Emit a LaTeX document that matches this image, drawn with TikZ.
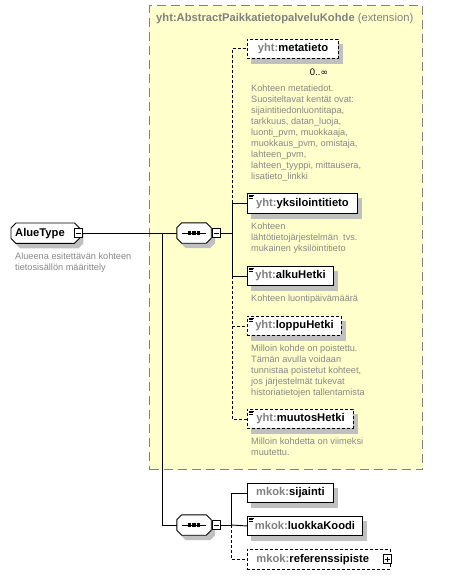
\documentclass[tikz,border=0pt]{standalone}
\usepackage{fontspec}
\setmainfont{Liberation Sans}
\newfontfamily\symfont{DejaVu Sans}
\usetikzlibrary{calc}
\definecolor{yellowfill}{RGB}{255,255,204}
\definecolor{extborder}{RGB}{128,128,128}
\definecolor{pfx}{RGB}{128,128,128}
\definecolor{desc}{RGB}{135,135,135}
\definecolor{shadowgray}{RGB}{192,192,192}
\pgfdeclarelayer{back}\pgfdeclarelayer{shade}\pgfdeclarelayer{body}
\pgfsetlayers{back,shade,body,main}
\newcommand\namefont{\fontsize{11.2}{13}\selectfont\bfseries}
\newcommand\descfont{\fontsize{9.2}{11}\selectfont}
\newcommand\octshape[4]{%
  \path[#4] ($(#1.north west)+(5+#2,#3)$) -- ($(#1.north east)+(-5+#2,#3)$) --
  ($(#1.north east)+(#2,5+#3)$) -- ($(#1.south east)+(#2,-5+#3)$) --
  ($(#1.south east)+(-5+#2,#3)$) -- ($(#1.south west)+(5+#2,#3)$) --
  ($(#1.south west)+(#2,-5+#3)$) -- ($(#1.north west)+(#2,5+#3)$) -- cycle;}
\tikzset{
  elem/.style={draw, fill=white, anchor=north west, inner sep=0pt, minimum height=19pt, font=\namefont, line width=0.9pt},
  opt/.style={dash pattern=on 3pt off 2pt},
  conn/.style={line width=0.9pt},
  descr/.style={anchor=north west, inner sep=0pt, align=left, font=\descfont, text=desc},
  pmbox/.style={draw, fill=white, minimum width=8pt, minimum height=9pt, inner sep=0pt, line width=0.8pt},
  octnode/.style={draw=none, inner sep=0pt, minimum height=20pt}
}
\newcommand\yh{{\color{pfx}yht:}}
\newcommand\mk{{\color{pfx}mkok:}}
\begin{document}
\begin{tikzpicture}[x=1pt,y=-1pt]
\useasboundingbox (0,0) rectangle (465,578);
% extension container
\begin{pgfonlayer}{back}
\node[draw=extborder, fill=yellowfill, dash pattern=on 9pt off 5pt, line width=1.2pt,
  anchor=north west, minimum width=273pt, minimum height=464pt, inner sep=0pt] (ext) at (149,5) {};
\end{pgfonlayer}
\node[anchor=west, inner sep=0pt, text=extborder, font=\fontsize{11.2}{13}\selectfont] (exttitle) at (156,19)
  {\textbf{yht:AbstractPaikkatietopalveluKohde} (extension)};

% root
\node[octnode, anchor=north west, inner xsep=4pt, minimum width=68pt, font=\namefont] (alue) at (11,223) {\makebox[60pt][l]{AlueType}};
\begin{pgfonlayer}{shade}\octshape{alue}{4}{5}{fill=shadowgray}\end{pgfonlayer}
\begin{pgfonlayer}{body}\octshape{alue}{0}{0}{draw, fill=white, line width=0.9pt}\end{pgfonlayer}
\node[pmbox] (aluem) at (78.5,233) {};
\draw[line width=0.8pt] ($(aluem.center)+(-2.5,0)$) -- ++(5,0);
\node[descr] (aluedesc) at (15,253) {Alueena esitettävän kohteen\\tietosisällön määrittely};

% sequence 1
\node[octnode, minimum width=34pt] (seq1) at (194,233) {};
\node[pmbox] (seq1m) at (216,233) {};
% sequence 2
\node[octnode, minimum width=34pt] (seq2) at (194,525) {};
\node[pmbox] (seq2m) at (216,525) {};
\foreach \s in {seq1,seq2}{
  \begin{pgfonlayer}{shade}\octshape{\s}{4}{5}{fill=shadowgray}\end{pgfonlayer}
  \begin{pgfonlayer}{body}\octshape{\s}{0}{0}{draw, fill=white, line width=0.9pt}\end{pgfonlayer}
  \draw[line width=0.9pt] ($(\s.center)+(-12,0)$) -- ++(24,0);
  \foreach \d in {-4.3,0,4.3}{\fill ($(\s.center)+(\d-1.6,-1.6)$) rectangle ++(3.2,3.2);}
  \draw[line width=0.8pt] ($(\s m.center)+(-2.5,0)$) -- ++(5,0);
}

% elements
\node[elem, opt, minimum width=91pt] (meta) at (247,39) {\yh metatieto};
\node[elem, minimum width=110pt, minimum height=20pt] (yks) at (247,193) {\yh yksilointitieto};
\node[elem, minimum width=86pt] (alku) at (247,266) {\yh alkuHetki};
\node[elem, opt, minimum width=94pt] (loppu) at (247,316) {\yh loppuHetki};
\node[elem, opt, minimum width=106pt] (muutos) at (247,409) {\yh muutosHetki};
\node[elem, minimum width=86pt] (sij) at (247,483) {\mk sijainti};
\node[elem, minimum width=115pt] (luok) at (247,516) {\mk luokkaKoodi};
\node[elem, opt, inner xsep=9pt, minimum height=20pt] (ref) at (247,549) {\makebox[125pt][l]{\mk referenssipiste}};
\node[pmbox, minimum width=8pt, minimum height=9pt] (refp) at (387,559) {};
\draw[line width=0.8pt] ($(refp.center)+(-2.5,0)$) -- ++(5,0) ($(refp.center)+(0,-2.5)$) -- ++(0,5);

\begin{pgfonlayer}{shade}
\foreach \n in {meta,yks,alku,loppu,muutos,sij,luok}{
  \fill[shadowgray] ($(\n.north west)+(4,5)$) rectangle ($(\n.south east)+(4,5)$);}
\end{pgfonlayer}
\foreach \n in {yks,alku,loppu,muutos,luok}{
  \draw[line width=0.7pt] ($(\n.north west)+(1.5,2)$) -- ++(5,0)
    ($(\n.north west)+(1.5,3.7)$) -- ++(4,0) ($(\n.north west)+(1.5,5.4)$) -- ++(4,0);}

\node[inner sep=0pt, font=\fontsize{9.5}{12}\selectfont] (occ) at (319,72) {0..{\symfont\fontsize{9}{11}\selectfont ∞}};

% descriptions
\node[descr] (metadesc) at (251,85) {Kohteen metatiedot.\\Suositeltavat kentät ovat:\\sijaintitiedonluontitapa,\\tarkkuus, datan\_luoja,\\luonti\_pvm, muokkaaja,\\muokkaus\_pvm, omistaja,\\lahteen\_pvm,\\lahteen\_tyyppi, mittausera,\\lisatieto\_linkki};
\node[descr] (yksdesc) at (251,223) {Kohteen\\lähtötietojärjestelmän\ \ tvs.\\mukainen yksilöintitieto};
\node[descr] (alkudesc) at (251,295) {Kohteen luontipäivämäärä};
\node[descr] (loppudesc) at (251,345) {Milloin kohde on poistettu.\\Tämän avulla voidaan\\tunnistaa poistetut kohteet,\\jos järjestelmät tukevat\\historiatietojen tallentamista};
\node[descr] (muutosdesc) at (251,438) {Milloin kohdetta on viimeksi\\muutettu.};

% connectors
\coordinate (j0) at (162,233);
\coordinate (j1) at (232,233);
\coordinate (j2) at (231,525);
\draw[conn] (aluem.east) -- (seq1.west);
\draw[conn] (j0) |- (seq2.west);
\draw[conn] (seq1m.east) -- (j1);
\draw[conn] (j1) |- (yks.west);
\draw[conn, opt] (j1 |- yks.west) |- (meta.west);
\draw[conn] (j1) |- (alku.west);
\draw[conn, opt] (j1 |- alku.west) |- (loppu.west);
\draw[conn, opt] (j1 |- loppu.west) |- (muutos.west);
\draw[conn] (seq2m.east) -- (j2);
\draw[conn] (j2) |- (sij.west);
\draw[conn] (j2) -- (luok.west);
\draw[conn, opt] (j2) |- (ref.west);
\end{tikzpicture}
\end{document}
